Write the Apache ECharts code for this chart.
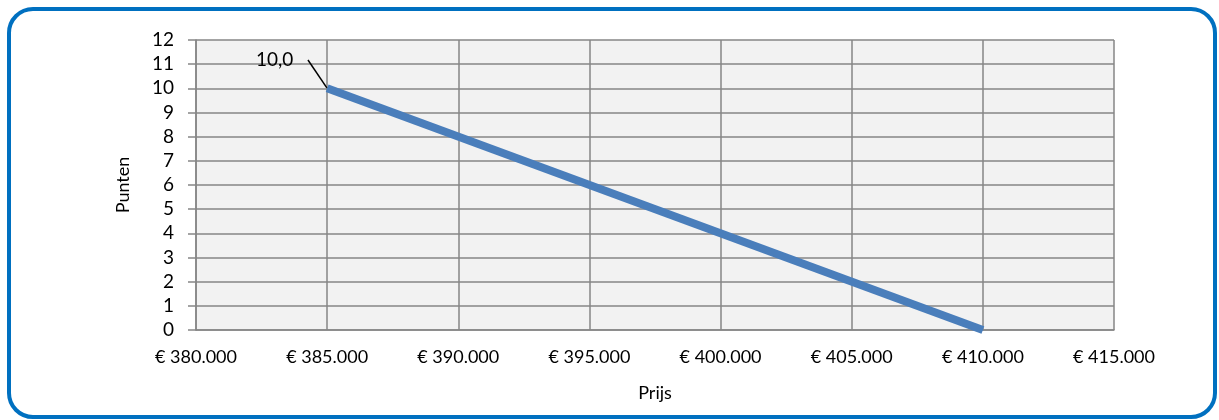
<!DOCTYPE html>
<html>
<head>
<meta charset="utf-8">
<script src="https://cdn.jsdelivr.net/npm/echarts@6/dist/echarts.min.js"></script>
<style>
    html, body {
        margin: 0;
        padding: 0;
        background: #ffffff;
    }

    .chart-wrap {
        position: relative;
        width: 1219px;
        height: 420px;
    }

    #chart {
        width: 1219px;
        height: 420px;
    }

    /* blauwe afgeronde rand om de hele grafiek */
    .chart-border {
        position: absolute;
        left: 7px;
        top: 7px;
        width: 1202px;
        height: 404px;
        border: 4px solid #0070c0;
        border-radius: 26px;
        pointer-events: none;
    }
</style>
</head>
<body>
<div class="chart-wrap">
    <div id="chart"></div>
    <div class="chart-border"></div>
</div>
<script>
// prijs (x) en punten (y)
const prijzen = [385000, 410000];
const punten = [10, 0];
const xTicks = { min: 380000, max: 415000, step: 5000 };
const yTicks = { min: 0, max: 12, step: 1 };

const fontFamily = 'Lato, "Open Sans", sans-serif';

function euro(v) {
    return '€ ' + String(v).replace(/\B(?=(\d{3})+(?!\d))/g, '.');
}

const chart = echarts.init(document.getElementById('chart'));

const seriesData = prijzen.map((p, i) => {
    const item = { value: [p, punten[i]] };
    if (i === 0) {
        item.label = {
            show: true,
            // spaties erachter zodat de verbindingslijn iets los van de tekst begint
            formatter: (d) => d.value[1].toFixed(1).replace('.', ',') + '   '
        };
        item.labelLine = { show: true };
    }
    return item;
});

const option = {
    backgroundColor: '#ffffff',
    animation: false,
    textStyle: { fontFamily: fontFamily },
    grid: {
        left: 196,
        right: 105,
        top: 40,
        bottom: 90,
        show: true,
        backgroundColor: '#f2f2f2',
        borderWidth: 0
    },
    xAxis: {
        type: 'value',
        min: xTicks.min,
        max: xTicks.max,
        interval: xTicks.step,
        name: 'Prijs',
        nameLocation: 'middle',
        nameGap: 54,
        nameTextStyle: { color: '#000', fontSize: 18, fontFamily: fontFamily },
        axisLine: { show: true, lineStyle: { color: '#868686', width: 1.5 } },
        axisTick: { show: false },
        axisLabel: {
            color: '#000',
            fontSize: 18,
            fontFamily: fontFamily,
            margin: 18,
            formatter: euro
        },
        splitLine: { show: true, lineStyle: { color: '#868686', width: 1.5 } }
    },
    yAxis: {
        type: 'value',
        min: yTicks.min,
        max: yTicks.max,
        interval: yTicks.step,
        name: 'Punten',
        nameLocation: 'middle',
        nameGap: 64,
        nameTextStyle: { color: '#000', fontSize: 18, fontFamily: fontFamily },
        axisLine: { show: true, lineStyle: { color: '#868686', width: 1.5 } },
        axisTick: { show: true, length: 8, lineStyle: { color: '#868686', width: 1.5 } },
        axisLabel: {
            color: '#000',
            fontSize: 19,
            fontFamily: fontFamily,
            margin: 22
        },
        splitLine: { show: true, lineStyle: { color: '#868686', width: 1.5 } }
    },
    series: [{
        type: 'line',
        data: seriesData,
        symbol: 'circle',
        symbolSize: 1,
        itemStyle: { color: '#4a7ebb' },
        lineStyle: { color: '#4a7ebb', width: 8, cap: 'butt' },
        label: {
            show: false,
            color: '#000',
            fontSize: 19,
            fontFamily: fontFamily
        },
        labelLine: {
            show: true,
            lineStyle: { color: '#000', width: 1.5 }
        },
        labelLayout: function () {
            return { x: 256, y: 60, align: 'left', verticalAlign: 'middle' };
        }
    }]
};

chart.setOption(option);
</script>
</body>
</html>
